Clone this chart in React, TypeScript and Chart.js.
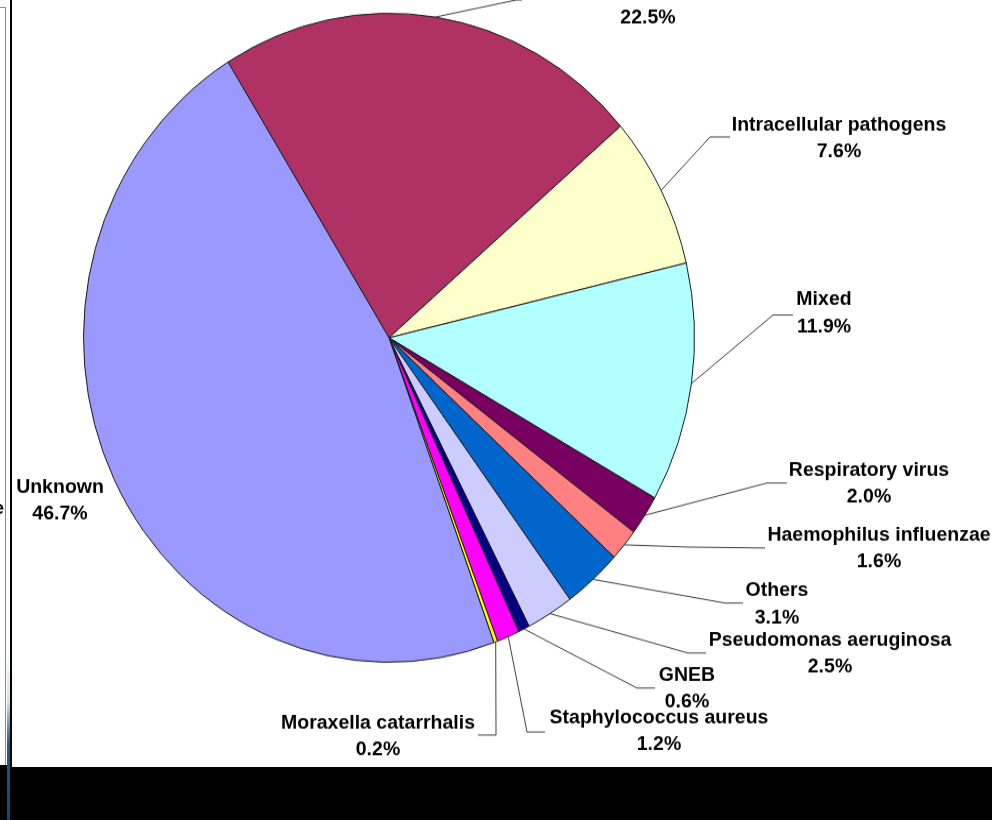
import React, { useEffect, useRef } from "react";
import { Chart, registerables } from "chart.js";

Chart.register(...registerables);

// ---- data ----
const categories = [
  "Streptococcus pneumoniae",
  "Intracellular pathogens",
  "Mixed",
  "Respiratory virus",
  "Haemophilus influenzae",
  "Others",
  "Pseudomonas aeruginosa",
  "GNEB",
  "Staphylococcus aureus",
  "Moraxella catarrhalis",
  "Unknown",
];
const values = [22.5, 7.6, 11.9, 2.0, 1.6, 3.1, 2.5, 0.6, 1.2, 0.2, 46.7];
const sliceColors = [
  "#B03264",
  "#FFFFCC",
  "#B2FFFF",
  "#770060",
  "#FF8080",
  "#0066CC",
  "#CCCCFF",
  "#000080",
  "#FF00FF",
  "#FFFF00",
  "#9999FF",
];

// ---- label layout (page pixels): text centre x, first line y, gap to second line, elbow, end of leader ----
const labelLayout = [
  { cx: 648, y1: -16, gap: 34, ex: 516, ey: 0, hx: 522, hy: 0 },
  { cx: 839, y1: 125, gap: 27, ex: 710, ey: 137, hx: 730, hy: 137 },
  { cx: 824, y1: 300, gap: 27, ex: 773, ey: 315, hx: 793, hy: 315 },
  { cx: 869, y1: 470, gap: 27, ex: 767, ey: 483, hx: 787, hy: 483 },
  { cx: 879, y1: 535, gap: 27, ex: 687, ey: 547, hx: 765, hy: 548 },
  { cx: 777, y1: 591, gap: 27, ex: 725, ey: 603, hx: 743, hy: 603 },
  { cx: 830, y1: 640, gap: 27, ex: 688, ey: 653, hx: 706, hy: 653 },
  { cx: 687, y1: 675, gap: 27, ex: 637, ey: 688, hx: 655, hy: 688 },
  { cx: 659, y1: 718, gap: 27, ex: 527, ey: 732, hx: 545, hy: 732 },
  { cx: 378, y1: 723, gap: 27, ex: 496, ey: 735, hx: 478, hy: 735 },
  { cx: 60, y1: 487, gap: 27, ex: null, ey: null, hx: null, hy: null },
];

const S = 1.0622; // vertical stretch of the original picture
const CANVAS_W = 992;
const CANVAS_H = 772;

const labelPlugin = {
  id: "pieLabels",
  afterDatasetsDraw(chart: any) {
    const ctx = chart.ctx as CanvasRenderingContext2D;
    const meta = chart.getDatasetMeta(0);
    ctx.save();
    ctx.scale(1, 1 / S);
    ctx.font = 'bold 19.5px "Liberation Sans", Arial, sans-serif';
    ctx.textAlign = "center";
    ctx.textBaseline = "middle";
    ctx.fillStyle = "#000";
    ctx.strokeStyle = "#3a3a3a";
    ctx.lineWidth = 1;
    meta.data.forEach((arc: any, i: number) => {
      const p = arc.getProps(["x", "y", "startAngle", "endAngle", "outerRadius"], true);
      const mid = (p.startAngle + p.endAngle) / 2;
      const px = p.x + Math.cos(mid) * p.outerRadius;
      const py = (p.y + Math.sin(mid) * p.outerRadius) * S;
      const L = labelLayout[i];
      if (L.ex !== null) {
        ctx.beginPath();
        ctx.moveTo(px, py);
        ctx.lineTo(L.ex as number, L.ey as number);
        ctx.lineTo(L.hx as number, L.hy as number);
        ctx.stroke();
      }
      ctx.fillText(categories[i], L.cx, L.y1);
      ctx.fillText(values[i].toFixed(1) + "%", L.cx, L.y1 + L.gap);
    });
    ctx.restore();
  },
};

export default function App() {
  const canvasRef = useRef<HTMLCanvasElement | null>(null);

  useEffect(() => {
    const canvas = canvasRef.current;
    if (!canvas) return;
    const chart = new Chart(canvas, {
      type: "pie",
      data: {
        labels: categories,
        datasets: [
          {
            data: values,
            backgroundColor: sliceColors,
            borderColor: "#1a1a1a",
            borderWidth: 1,
          },
        ],
      },
      options: {
        responsive: false,
        animation: false,
        devicePixelRatio: 1,
        rotation: -31.8,
        layout: { padding: { left: 83, right: 297, top: 12, bottom: 148 } },
        plugins: {
          legend: { display: false },
          tooltip: { enabled: false },
          title: { display: false },
        },
      },
      plugins: [labelPlugin],
    });
    return () => chart.destroy();
  }, []);

  return (
    <div
      style={{
        position: "fixed",
        left: 0,
        top: 0,
        width: 992,
        height: 820,
        overflow: "hidden",
        background: "#fff",
      }}
    >
      <div
        style={{
          position: "absolute",
          left: 0,
          top: 0,
          width: CANVAS_W,
          height: CANVAS_H,
          transform: `scaleY(${S})`,
          transformOrigin: "0 0",
        }}
      >
        <canvas ref={canvasRef} width={CANVAS_W} height={CANVAS_H} />
      </div>
      {/* slide frame remnants */}
      <div style={{ position: "absolute", left: 0, top: 7, width: 6, height: 1, background: "#8a8a8a" }} />
      <div style={{ position: "absolute", left: 5, top: 7, width: 1, height: 758, background: "#8a8a8a" }} />
      <div style={{ position: "absolute", left: 0, top: 765, width: 7, height: 55, background: "#000" }} />
      <div
        style={{
          position: "absolute",
          left: 7,
          top: 650,
          width: 3,
          height: 170,
          background: "linear-gradient(#ffffff, #cfe4ee 30%, #1d5f86 55%, #0f4a6e)",
        }}
      />
      <div style={{ position: "absolute", left: 10, top: 0, width: 2, height: 820, background: "#000" }} />
      <div style={{ position: "absolute", left: 10, top: 767, width: 982, height: 53, background: "#000" }} />
      <div
        style={{
          position: "absolute",
          right: 988,
          top: 497,
          font: 'bold 19px "Liberation Sans", Arial, sans-serif',
          color: "#000",
          whiteSpace: "nowrap",
        }}
      >
        e
      </div>
    </div>
  );
}
